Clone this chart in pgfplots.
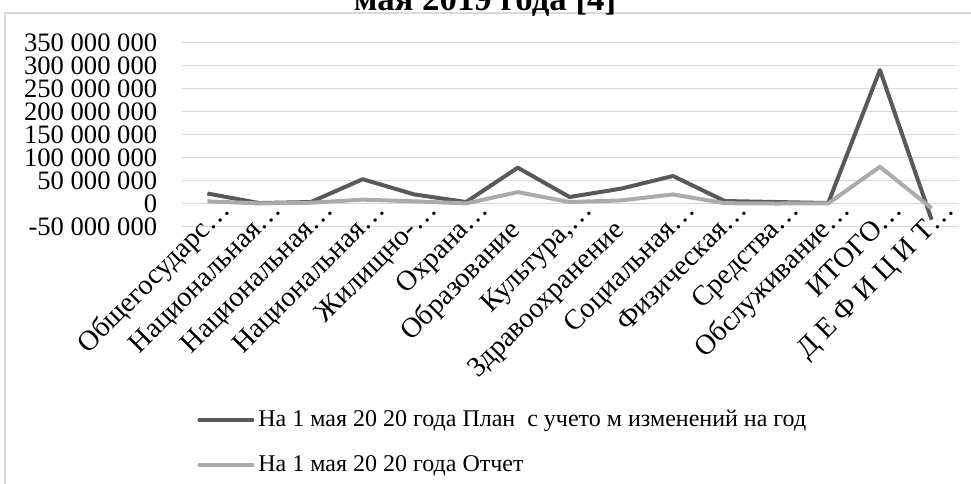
\documentclass[border=0pt]{standalone}
\usepackage{pgfplots}
\pgfplotsset{compat=1.18}
\usepackage{fontspec}
\setmainfont{Liberation Serif}
\definecolor{planc}{HTML}{595959}
\definecolor{repc}{HTML}{ABABAB}
\definecolor{gridc}{HTML}{D9D9D9}
\newcommand{\el}{\rlap{…}}
\begin{document}
\begin{tikzpicture}
\begin{axis}[
  width=388bp, height=92.2bp, scale only axis,
  xmin=-0.5, xmax=14.5,
  ymin=-50000000, ymax=350000000,
  scaled y ticks=false,
  axis line style={draw=none},
  tick style={draw=none},
  major tick length=0pt,
  ymajorgrids, grid style={gridc, line width=0.75bp},
  ytick={-50000000,0,50000000,100000000,150000000,200000000,250000000,300000000,350000000},
  yticklabels={-50 000 000,0,50 000 000,100 000 000,150 000 000,200 000 000,250 000 000,300 000 000,350 000 000},
  xtick={0,...,14},
  xticklabels={Общегосударс\el,Национальная\el,Национальная\el,Национальная\el,Жилищно-\el,Охрана\el,Образование,{Культура,\el},Здравоохранение,Социальная\el,Физическая\el,Средства\el,Обслуживание\el,ИТОГО\el,Д Е Ф И Ц И Т\el},
  yticklabel style={font=\fontsize{13.3bp}{14bp}\selectfont, anchor=east, inner sep=0pt, xshift=-12bp},
  xticklabel style={font=\fontsize{14.2bp}{15bp}\selectfont, xshift=2bp, yshift=-2.25bp, rotate=45, anchor=base east, inner sep=0pt},
  legend style={at={(0.02,-0.972)}, anchor=north west, draw=none, fill=none,
    font=\fontsize{12bp}{13bp}\selectfont, row sep=9bp, inner sep=0pt},
  legend cell align=left,
  legend image code/.code={\draw[#1, line cap=round] (0bp,0bp) -- (26.5bp,0bp);},
]
\addplot[planc, line width=2bp, line join=round] coordinates {
(0,22000000) (1,1300000) (2,3500000) (3,53000000) (4,20000000) (5,3500000) (6,78000000)
(7,14400000) (8,32600000) (9,60000000) (10,5700000) (11,3500000) (12,1300000) (13,290000000) (14,-35000000)};
\addlegendentry{На 1 мая 20 20 года План\ \ с учето м изменений на год}
\addplot[repc, line width=2bp, line join=round] coordinates {
(0,5000000) (1,500000) (2,2000000) (3,8700000) (4,5000000) (5,500000) (6,25000000)
(7,3500000) (8,7000000) (9,20000000) (10,1000000) (11,300000) (12,500000) (13,80000000) (14,-10000000)};
\addlegendentry{На 1 мая 20 20 года Отчет}
\end{axis}
\begin{scope}[shift={(-90.75bp,113.35bp)}, x=0.5bp, y=0.5bp]
\path (0,0) rectangle (971,-484);
\draw[gridc, line width=0.75bp, overlay] (5,-495) -- (5,-13) -- (980,-13);
\node[overlay, font=\bfseries\fontsize{17.4bp}{20bp}\selectfont, anchor=base] at (485,-11) {мая 2019 года [4]};
\end{scope}
\end{tikzpicture}
\end{document}
